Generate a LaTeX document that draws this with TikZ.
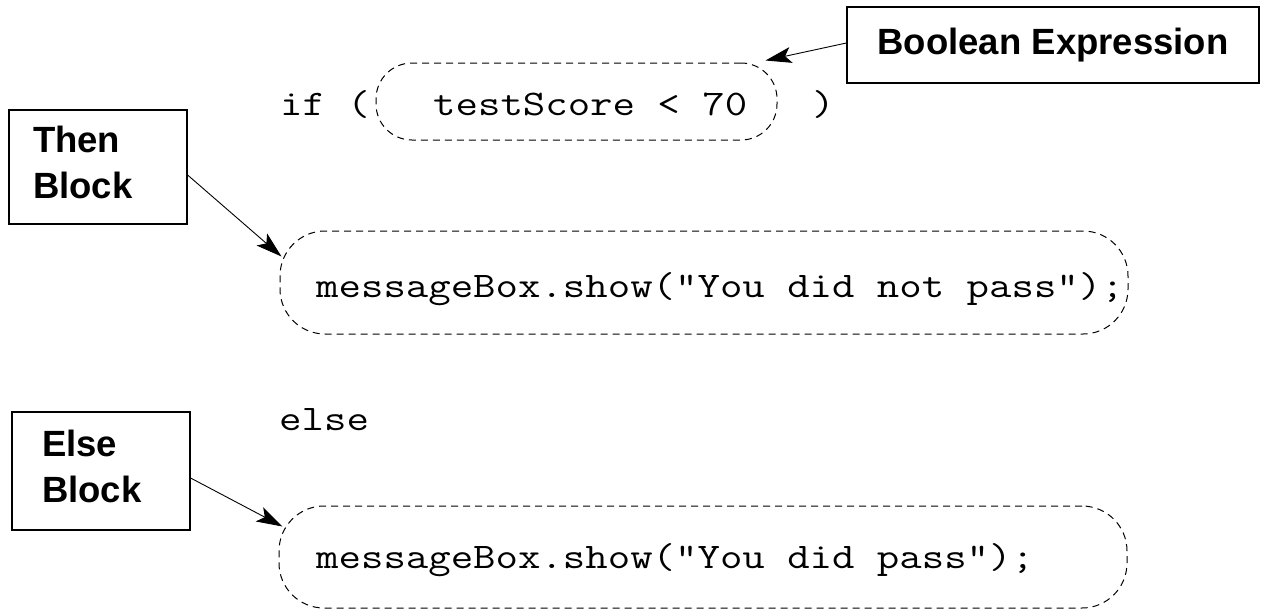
\documentclass[tikz,border=0pt]{standalone}
\usepackage{fontspec}
\usetikzlibrary{arrows.meta,calc}
\newfontfamily\codefont{Latin Modern Mono}[FakeStretch=1.21]
\newfontfamily\labelfont{Liberation Sans}
\newcommand{\lowstrut}{\rule[-9pt]{0pt}{9pt}}
\begin{document}
\begin{tikzpicture}[x=1pt,y=-1pt,
  code/.style={inner sep=0pt,anchor=base west,font=\codefont\fontsize{36}{45}\selectfont},
  region/.style={draw,dash pattern=on 7pt off 5pt,line width=1pt,inner sep=0pt},
  callout/.style={draw,line width=1.2pt,font=\labelfont\bfseries\fontsize{36.5}{46}\selectfont,inner ysep=0pt},
  ptr/.style={line width=0.9pt,-{Stealth[length=26pt,width=16pt,inset=6pt]}}]
\useasboundingbox (0,0) rectangle (1261,611);

% code lines
\node[code] (kwif) at (280,115) {if (};
\node[code] (test) at (433,115) {testScore < 70};
\node[code] (close) at (812,115) {)};
\node[code] (then) at (316,297) {messageBox.show("You did not pass");};
\node[code] (kwelse) at (279,430) {else};
\node[code] (other) at (316,568) {messageBox.show("You did pass");};

% dashed outlines of the parts of the statement
\node[region,rounded corners=36pt,minimum width=401pt,minimum height=77pt] (cond) at (576.5,101.5) {};
\node[region,rounded corners=45pt,minimum width=848pt,minimum height=103pt] (blk1) at (704,282.5) {};
\node[region,rounded corners=45pt,minimum width=848pt,minimum height=102pt] (blk2) at (703,557) {};

% labels
\node[callout,minimum width=412pt,minimum height=76pt] (bool) at (1053,45) {Boolean Expression};
\node[callout,minimum height=114pt,text width=130pt,inner xsep=24pt,align=left] (thenlbl) at (98,167) {Then\\Block\lowstrut};
\node[callout,minimum height=118pt,text width=118pt,inner xsep=30pt,align=left] (elselbl) at (101,471) {Else\\Block\lowstrut};

% pointers
\draw[ptr] ($(bool.west)+(0,-2)$) -- ($(cond.north east)+(-12,-2)$);
\draw[ptr] ($(thenlbl.east)+(0,8)$) -- ($(blk1.north west)+(2,26)$);
\draw[ptr] ($(elselbl.east)+(0,7)$) -- ($(blk2.north west)+(4,21)$);
\end{tikzpicture}
\end{document}
